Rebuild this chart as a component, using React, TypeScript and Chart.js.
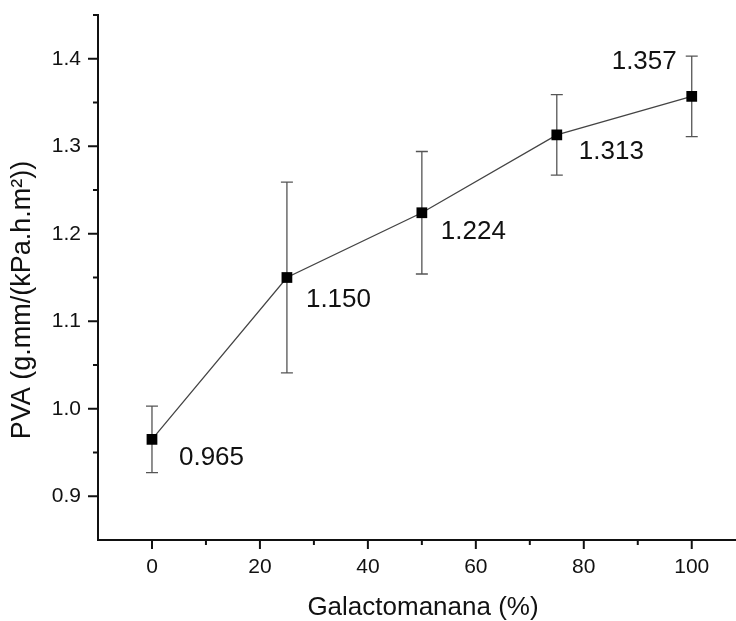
import React, { useEffect, useRef } from "react";
import { Chart, registerables } from "chart.js";

Chart.register(...registerables);

const categories = [0, 25, 50, 75, 100];
const pvaValues = [0.965, 1.15, 1.224, 1.313, 1.357];
const pvaErrors = [0.038, 0.109, 0.07, 0.046, 0.046];
const pointLabels = ["0.965", "1.150", "1.224", "1.313", "1.357"];
const xMajorTicks = [0, 20, 40, 60, 80, 100];
const xMinorTicks = [10, 30, 50, 70, 90];
const yMajorTicks = [0.9, 1.0, 1.1, 1.2, 1.3, 1.4];
const yMinorTicks = [0.95, 1.05, 1.15, 1.25, 1.35, 1.45];
const xTitle = "Galactomanana (%)";
const yTitle = "PVA (g.mm/(kPa.h.m²))";

// label placement relative to the point (dx, dy, align)
const labelPlacement: [number, number, CanvasTextAlign][] = [
  [27, 18, "left"],
  [19, 22, "left"],
  [19, 19, "left"],
  [22, 17, "left"],
  [-15, -35, "right"],
];

const FONT = "'Liberation Sans', Arial, sans-serif";

const overlayPlugin = {
  id: "overlay",
  beforeDatasetsDraw(chart: any) {
    const { ctx, scales } = chart;
    const xs = scales.x;
    const ys = scales.y;
    ctx.save();
    ctx.strokeStyle = "#555";
    ctx.lineWidth = 1.3;
    categories.forEach((c, i) => {
      const px = xs.getPixelForValue(c);
      const top = ys.getPixelForValue(pvaValues[i] + pvaErrors[i]);
      const bot = ys.getPixelForValue(pvaValues[i] - pvaErrors[i]);
      ctx.beginPath();
      ctx.moveTo(px, top);
      ctx.lineTo(px, bot);
      ctx.moveTo(px - 6, top);
      ctx.lineTo(px + 6, top);
      ctx.moveTo(px - 6, bot);
      ctx.lineTo(px + 6, bot);
      ctx.stroke();
    });
    ctx.restore();
  },
  afterDraw(chart: any) {
    const { ctx, scales, chartArea } = chart;
    const xs = scales.x;
    const ys = scales.y;
    ctx.save();
    ctx.strokeStyle = "#111";
    ctx.lineWidth = 2;
    const bottom = chartArea.bottom;
    const left = chartArea.left;
    xMajorTicks.forEach((v) => {
      const px = xs.getPixelForValue(v);
      ctx.beginPath();
      ctx.moveTo(px, bottom);
      ctx.lineTo(px, bottom + 9);
      ctx.stroke();
    });
    xMinorTicks.forEach((v) => {
      const px = xs.getPixelForValue(v);
      ctx.beginPath();
      ctx.moveTo(px, bottom);
      ctx.lineTo(px, bottom + 5);
      ctx.stroke();
    });
    yMajorTicks.forEach((v) => {
      const py = ys.getPixelForValue(v);
      ctx.beginPath();
      ctx.moveTo(left, py);
      ctx.lineTo(left - 10, py);
      ctx.stroke();
    });
    yMinorTicks.forEach((v) => {
      const py = ys.getPixelForValue(v);
      ctx.beginPath();
      ctx.moveTo(left, py);
      ctx.lineTo(left - 5, py);
      ctx.stroke();
    });

    // data labels
    ctx.fillStyle = "#111";
    ctx.font = `26px ${FONT}`;
    ctx.textBaseline = "middle";
    categories.forEach((c, i) => {
      const px = xs.getPixelForValue(c);
      const py = ys.getPixelForValue(pvaValues[i]);
      const [dx, dy, align] = labelPlacement[i];
      ctx.textAlign = align;
      ctx.fillText(pointLabels[i], px + dx, py + dy);
    });

    // axis titles
    ctx.textAlign = "center";
    ctx.textBaseline = "middle";
    ctx.fillText(xTitle, 423, 608);
    ctx.save();
    ctx.font = `27px ${FONT}`;
    ctx.translate(23, 300);
    ctx.rotate(-Math.PI / 2);
    ctx.fillText(yTitle, 0, 0);
    ctx.restore();
    ctx.restore();
  },
};

export default function App() {
  const canvasRef = useRef<HTMLCanvasElement | null>(null);

  useEffect(() => {
    if (!canvasRef.current) return;
    const chart = new Chart(canvasRef.current, {
      type: "line",
      data: {
        datasets: [
          {
            data: categories.map((c, i) => ({ x: c, y: pvaValues[i] })),
            borderColor: "#444",
            borderWidth: 1.3,
            pointStyle: "rect",
            pointRadius: 7.6,
            pointBackgroundColor: "#000",
            pointBorderColor: "#000",
            pointBorderWidth: 0,
            fill: false,
            tension: 0,
            clip: false as any,
          },
        ],
      },
      options: {
        responsive: false,
        animation: false,
        devicePixelRatio: 1,
        layout: { autoPadding: false, padding: { top: 15, left: 0, right: 0, bottom: 0 } },
        plugins: {
          legend: { display: false },
          tooltip: { enabled: false },
          title: { display: false },
        },
        scales: {
          x: {
            type: "linear",
            min: -10,
            max: 108.2,
            afterBuildTicks: (s: any) => {
              s.ticks = xMajorTicks.map((v) => ({ value: v }));
            },
            afterFit: (s: any) => {
              s.height = 81;
              s.paddingLeft = 0;
              s.paddingRight = 0;
            },
            grid: { display: true, drawOnChartArea: false, drawTicks: false },
            border: { display: true, color: "#111", width: 2 },
            ticks: {
              color: "#111",
              font: { size: 21, family: FONT },
              padding: 15,
              maxRotation: 0,
              autoSkip: false,
              callback: (v: any) => String(v),
            },
          },
          y: {
            type: "linear",
            min: 0.85,
            max: 1.45,
            afterBuildTicks: (s: any) => {
              s.ticks = yMajorTicks.map((v) => ({ value: v }));
            },
            afterFit: (s: any) => {
              s.width = 98;
              s.paddingTop = 0;
              s.paddingBottom = 0;
            },
            grid: { display: true, drawOnChartArea: false, drawTicks: false },
            border: { display: true, color: "#111", width: 2 },
            ticks: {
              color: "#111",
              font: { size: 21, family: FONT },
              padding: 17,
              autoSkip: false,
              callback: (v: any) => Number(v).toFixed(1),
            },
          },
        },
      },
      plugins: [overlayPlugin],
    });
    return () => chart.destroy();
  }, []);

  return (
    <div style={{ position: "absolute", left: 0, top: 0, width: 736, height: 621, background: "#fff" }}>
      <canvas ref={canvasRef} width={736} height={621} style={{ display: "block" }} />
    </div>
  );
}
